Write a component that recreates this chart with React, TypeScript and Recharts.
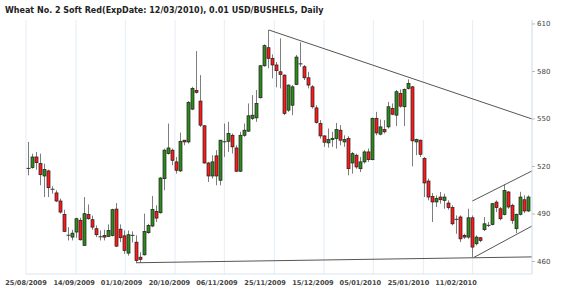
import React from 'react';
import { ComposedChart, Bar, XAxis, YAxis, CartesianGrid, ReferenceLine } from 'recharts';

const title = 'Wheat  No. 2 Soft Red(ExpDate: 12/03/2010), 0.01 USD/BUSHELS, Daily';

const opens = [
  518.4, 519.3, 526.0, 521.8, 514.0, 517.2, 505.6, 503.3, 498.2, 489.7,
  476.6, 475.4, 478.6, 486.0, 470.1, 489.7, 486.4, 480.7, 475.6, 476.4,
  475.8, 476.4, 493.1, 480.4, 476.2, 465.3, 476.5, 472.2, 462.7, 464.2,
  478.2, 482.4, 491.6, 490.8, 512.3, 528.2, 530.3, 522.9, 517.2, 536.6,
  535.5, 556.2, 568.0, 561.3, 545.7, 522.2, 514.0, 526.7, 511.3, 535.6,
  535.9, 539.7, 531.7, 517.0, 539.7, 542.3, 550.3, 550.7, 563.4, 583.6,
  595.0, 588.3, 584.1, 579.8, 577.7, 555.6, 558.7, 571.8, 584.8, 583.0,
  576.0, 570.3, 557.0, 547.1, 539.3, 534.9, 537.0, 537.6, 542.9, 535.5,
  537.6, 522.2, 527.1, 518.6, 522.9, 529.2, 524.3, 550.3, 540.4, 543.3,
  545.0, 556.6, 552.4, 566.1, 557.7, 569.3, 570.3, 535.5, 536.6, 525.0,
  510.8, 501.1, 497.6, 500.7, 498.6, 496.9, 494.0, 486.6, 488.1, 476.5,
  475.4, 487.6, 471.2, 475.0, 480.1, 482.8, 483.4, 497.5, 493.3, 489.7,
  503.9, 495.5, 480.7, 489.8, 499.0, 491.9,
];
const highs = [
  535.5, 528.1, 529.2, 528.1, 521.8, 518.0, 507.5, 505.0, 499.7, 492.7,
  481.7, 480.0, 487.6, 487.6, 500.7, 496.0, 489.0, 482.8, 479.6, 480.0,
  483.4, 493.3, 496.9, 483.4, 479.6, 479.6, 479.0, 476.5, 465.8, 490.2,
  483.8, 501.4, 495.5, 513.4, 531.3, 547.1, 531.3, 526.0, 541.4, 536.6,
  561.3, 570.3, 592.9, 577.7, 546.1, 522.9, 527.1, 530.3, 536.6, 547.1,
  548.2, 540.8, 533.4, 541.9, 547.1, 559.8, 565.1, 568.3, 584.1, 597.1,
  606.2, 590.8, 586.0, 600.9, 578.1, 571.8, 571.4, 590.4, 598.4, 584.1,
  579.8, 571.4, 558.7, 549.3, 539.7, 544.0, 541.9, 547.5, 546.1, 539.7,
  539.1, 529.2, 528.1, 526.0, 530.3, 531.3, 550.9, 554.5, 549.7, 549.3,
  560.8, 559.8, 568.3, 568.6, 569.3, 575.0, 570.8, 537.6, 537.0, 526.0,
  512.3, 503.2, 501.8, 503.9, 502.8, 498.6, 495.5, 489.1, 489.1, 477.5,
  493.3, 489.1, 476.5, 475.4, 488.1, 484.9, 496.9, 498.6, 494.4, 508.7,
  504.5, 496.5, 490.2, 504.0, 501.8, 501.8,
];
const lows = [
  514.4, 518.6, 518.0, 508.1, 500.7, 500.7, 502.8, 497.5, 490.2, 478.6,
  473.3, 473.3, 475.0, 473.3, 470.1, 486.4, 480.0, 475.4, 473.3, 473.3,
  475.4, 475.8, 469.1, 472.2, 464.8, 463.7, 472.0, 459.2, 459.2, 463.8,
  477.5, 481.7, 484.9, 490.2, 505.0, 527.5, 520.8, 515.5, 516.5, 533.4,
  534.5, 555.6, 566.1, 545.0, 521.8, 510.2, 512.3, 508.1, 508.1, 526.0,
  529.2, 528.2, 516.5, 516.5, 538.7, 541.9, 549.3, 548.2, 563.0, 583.0,
  582.0, 575.6, 570.0, 569.3, 552.4, 554.5, 552.4, 571.4, 583.0, 574.6,
  569.3, 556.6, 547.1, 537.6, 532.4, 531.9, 532.4, 531.3, 533.4, 532.4,
  514.4, 515.5, 518.6, 516.5, 521.8, 522.9, 523.9, 539.7, 539.7, 540.8,
  544.0, 552.4, 545.5, 557.2, 545.5, 568.6, 520.1, 527.1, 526.0, 500.7,
  498.6, 484.9, 494.4, 496.5, 493.3, 492.7, 482.8, 477.5, 472.2, 474.3,
  474.3, 462.7, 470.1, 472.2, 479.2, 481.7, 482.8, 491.2, 486.0, 489.1,
  493.3, 483.8, 477.9, 489.1, 490.6, 491.2,
];
const closes = [
  518.8, 526.0, 522.4, 514.8, 518.0, 506.6, 505.2, 498.2, 491.2, 479.0,
  476.2, 477.9, 487.0, 473.7, 490.2, 487.0, 481.7, 476.9, 475.2, 475.4,
  479.6, 492.7, 469.7, 475.0, 467.0, 476.9, 476.0, 460.6, 461.3, 479.0,
  482.8, 492.9, 487.4, 512.7, 530.3, 531.7, 523.9, 517.6, 535.9, 535.5,
  560.4, 569.3, 566.8, 546.1, 522.2, 514.0, 522.9, 514.0, 536.6, 535.3,
  540.8, 532.4, 517.0, 539.7, 542.9, 552.0, 552.4, 559.8, 583.6, 596.3,
  588.3, 584.1, 580.5, 578.1, 553.5, 571.4, 570.3, 589.1, 584.3, 576.0,
  571.4, 557.7, 547.8, 539.3, 535.3, 537.0, 537.8, 543.3, 536.6, 537.0,
  518.6, 528.1, 519.7, 522.9, 529.2, 524.3, 550.3, 541.2, 545.0, 541.9,
  557.7, 553.0, 567.2, 558.1, 568.6, 572.4, 536.2, 537.0, 527.7, 509.6,
  500.7, 497.6, 499.7, 499.0, 500.7, 494.0, 483.8, 486.2, 474.3, 475.4,
  487.6, 469.1, 475.4, 473.3, 483.8, 482.3, 496.5, 494.0, 487.0, 504.9,
  494.4, 486.0, 489.8, 500.7, 491.9, 500.7,
];

// x-axis tick positions (in bar-index units) and their labels
const tickPositions = [-0.5, 12, 24.33, 36.75, 49.08, 61.58, 74, 86.33, 98.83, 111.17];
const tickLabels = [
  '25/08/2009', '14/09/2009', '01/10/2009', '20/10/2009', '06/11/2009',
  '25/11/2009', '15/12/2009', '05/01/2010', '25/01/2010', '11/02/2010',
];
const priceTicks = [460, 490, 520, 550, 580, 610];

// trend lines drawn on the chart: start/end bar index and price
const trendStartX = [60.2, 27, 111.1, 111.5];
const trendStartY = [606.2, 459.2, 498.2, 462.6];
const trendEndX = [126, 126, 126, 126];
const trendEndY = [550, 462.9, 517.2, 482.4];

const data = opens.map((o, i) => ({
  i,
  open: o,
  high: highs[i],
  low: lows[i],
  close: closes[i],
  range: [lows[i], highs[i]],
}));

const Candle = (props: any) => {
  const { x, y, width, height, payload } = props;
  if (!payload) return null;
  const { open, close, high, low } = payload;
  const top = Math.min(y, y + height);
  const h = Math.abs(height);
  const ppu = high - low > 0 ? h / (high - low) : 0;
  const cx = Math.round(x + width / 2) + 0.5;
  const yOf = (v: number) => top + (high - v) * ppu;
  const up = close >= open;
  const bTop = yOf(Math.max(open, close));
  const bBot = yOf(Math.min(open, close));
  return (
    <g>
      <line x1={cx} x2={cx} y1={top} y2={top + h} stroke="#7d7d7d" strokeWidth={1} />
      {bBot - bTop < 1.2 ? (
        <line x1={cx - 2} x2={cx + 2} y1={bTop} y2={bTop} stroke="#333" strokeWidth={1} />
      ) : (
        <rect
          x={cx - 1.5}
          y={bTop}
          width={3}
          height={bBot - bTop}
          fill={up ? '#2e8a1c' : '#ff1a1a'}
          stroke="#1d1d1d"
          strokeWidth={0.7}
        />
      )}
    </g>
  );
};

const XTick = (props: any) => {
  const { x, y, payload } = props;
  const k = tickPositions.indexOf(payload.value);
  return (
    <text
      x={x - 1.85 * k}
      y={y + 11}
      textAnchor="middle"
      fontFamily="DejaVu Sans"
      fontWeight="bold"
      fontSize={6.6}
      fill="#444"
    >
      {tickLabels[k]}
    </text>
  );
};

export default function App() {
  return (
    <div style={{ position: 'absolute', left: 0, top: 0, width: 570, height: 291, background: '#fff' }}>
      <svg width={570} height={20} style={{ position: 'absolute', left: 0, top: 0 }}>
        <text x={5} y={12.5} fontFamily="DejaVu Sans" fontWeight="bold" fontSize={8} fill="#222">
          {title}
        </text>
      </svg>
      <ComposedChart
        width={570}
        height={291}
        data={data}
        margin={{ top: 20, right: 0, bottom: 0, left: 26 }}
      >
        <CartesianGrid vertical horizontal={false} stroke="#e4edf6" />
        <XAxis
          type="number"
          dataKey="i"
          domain={[-0.5, 126]}
          allowDataOverflow
          ticks={tickPositions}
          interval={0}
          height={17}
          tickLine={false}
          tickSize={0}
          tickMargin={0}
          stroke="#d8e4ef"
          tick={<XTick />}
        />
        <YAxis
          orientation="right"
          type="number"
          domain={[452.1, 612.5]}
          allowDataOverflow
          ticks={priceTicks}
          interval={0}
          width={38}
          tickSize={3}
          tickMargin={2}
          stroke="#d8e4ef"
          tickLine={{ stroke: '#bbb' }}
          tick={{ fontFamily: 'DejaVu Sans', fontSize: 7, fill: '#444', textAnchor: 'start' }}
        />
        <Bar dataKey="range" barSize={4} shape={<Candle />} isAnimationActive={false} />
        {trendStartX.map((sx, k) => (
          <ReferenceLine
            key={k}
            segment={[
              { x: sx, y: trendStartY[k] },
              { x: trendEndX[k], y: trendEndY[k] },
            ]}
            stroke="#555"
            strokeWidth={1}
            ifOverflow="visible"
          />
        ))}
      </ComposedChart>
    </div>
  );
}
